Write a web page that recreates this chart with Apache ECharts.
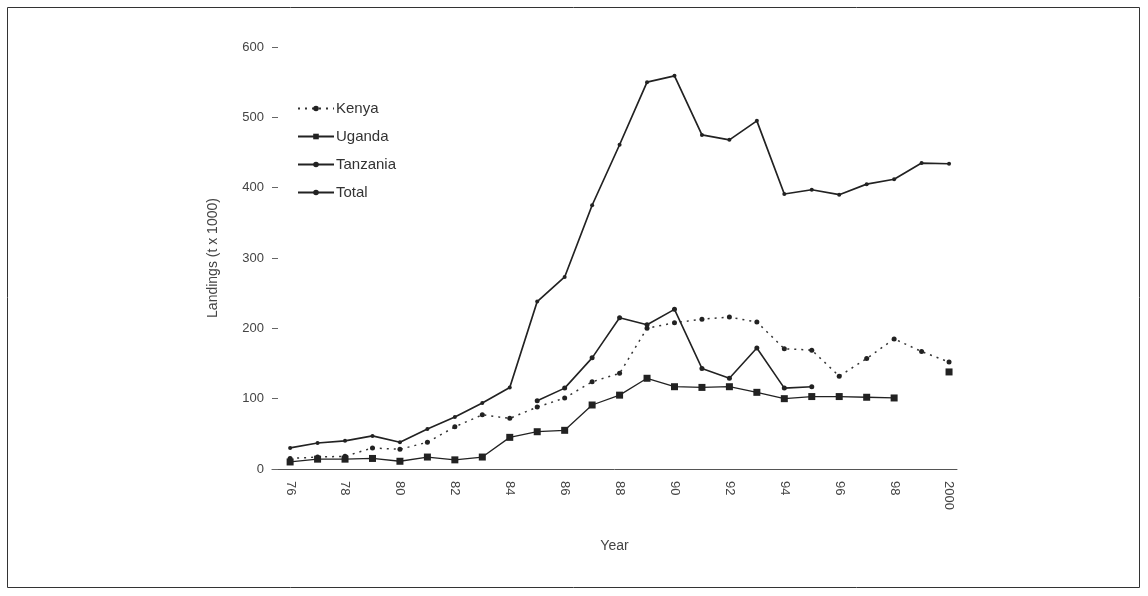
<!DOCTYPE html>
<html>
<head>
<meta charset="utf-8">
<script src="https://cdn.jsdelivr.net/npm/echarts@6/dist/echarts.min.js"></script>
<style>
  html, body { margin: 0; padding: 0; background: #fff; }
  #chart { width: 1148px; height: 596px; }
</style>
</head>
<body>
<div id="chart"></div>
<script>
// Fish landings on Lake Victoria by country, 1976-2000 (thousand tonnes)
const years = [1976, 1977, 1978, 1979, 1980, 1981, 1982, 1983, 1984, 1985, 1986, 1987, 1988,
               1989, 1990, 1991, 1992, 1993, 1994, 1995, 1996, 1997, 1998, 1999, 2000];
const kenya    = [15, 17, 18, 30, 28, 38, 60, 77, 72, 88, 101, 124, 136,
                  200, 208, 213, 216, 209, 171, 169, 132, 157, 185, 167, 152];
const uganda   = [10, 14, 14, 15, 11, 17, 13, 17, 45, 53, 55, 91, 105,
                  129, 117, 116, 117, 109, 100, 103, 103, 102, 101, null, 138];
const tanzania = [null, null, null, null, null, null, null, null, null, 97, 115, 158, 215,
                  205, 227, 143, 129, 172, 115, 117, null, null, null, null, null];
const total    = [30, 37, 40, 47, 38, 57, 74, 94, 116, 238, 273, 375, 461,
                  550, 559, 475, 468, 495, 391, 397, 390, 405, 412, 435, 434];

// Tick labels along the year axis
const yearTicks  = [1976, 1978, 1980, 1982, 1984, 1986, 1988, 1990, 1992, 1994, 1996, 1998, 2000];
const yearLabels = ['76', '78', '80', '82', '84', '86', '88', '90', '92', '94', '96', '98', '2000'];
const yTicks = [0, 100, 200, 300, 400, 500, 600];

const pairs = arr => years.map((y, i) => [y, arr[i]]);
const ink = '#222';
const font = 'Liberation Sans, Arial, sans-serif';

const chart = echarts.init(document.getElementById('chart'), null, { renderer: 'canvas' });

chart.setOption({
  backgroundColor: '#fff',
  animation: false,
  textStyle: { fontFamily: font },
  graphic: [{
    type: 'rect',
    shape: { x: 7.5, y: 7.5, width: 1132, height: 580 },
    style: { fill: 'none', stroke: '#333', lineWidth: 1 },
    silent: true
  }],
  grid: { left: 272, right: 191, top: 47, bottom: 127 },
  legend: {
    orient: 'vertical',
    left: 292,
    top: 96,
    itemWidth: 36,
    itemHeight: 7,
    itemGap: 13,
    textStyle: { fontSize: 15, color: '#333', fontFamily: font, padding: [0, 0, 0, -3] },
    data: ['Kenya', 'Uganda', 'Tanzania', 'Total']
  },
  xAxis: {
    type: 'value',
    min: 1975.34,
    max: 2000.29,
    name: 'Year',
    nameLocation: 'middle',
    nameGap: 70,
    nameTextStyle: { fontSize: 14, color: '#444' },
    axisLine: { show: true, lineStyle: { color: '#555', width: 1 } },
    axisTick: { show: false },
    splitLine: { show: false },
    axisLabel: {
      customValues: yearTicks,
      rotate: -90,
      margin: 12,
      fontSize: 13,
      color: '#444',
      formatter: v => yearLabels[yearTicks.indexOf(Math.round(v))] || ''
    }
  },
  yAxis: {
    type: 'value',
    min: 0,
    max: 600,
    interval: 100,
    name: 'Landings (t x 1000)',
    nameLocation: 'middle',
    nameGap: 52,
    nameTextStyle: { fontSize: 14, color: '#444' },
    axisLine: { show: false },
    axisTick: { show: true, inside: true, length: 6, lineStyle: { color: '#666' } },
    splitLine: { show: false },
    axisLabel: {
      margin: 8,
      fontSize: 13,
      color: '#444',
      formatter: v => (yTicks.indexOf(v) >= 0 ? String(v) : '')
    }
  },
  series: [
    {
      name: 'Kenya',
      type: 'line',
      data: pairs(kenya),
      symbol: 'circle',
      symbolSize: 5,
      lineStyle: { color: '#333', width: 1.5, type: [2, 5] },
      itemStyle: { color: ink }
    },
    {
      name: 'Uganda',
      type: 'line',
      data: pairs(uganda),
      connectNulls: false,
      symbol: 'rect',
      symbolSize: 7,
      lineStyle: { color: ink, width: 1.3 },
      itemStyle: { color: ink }
    },
    {
      name: 'Tanzania',
      type: 'line',
      data: pairs(tanzania),
      symbol: 'circle',
      symbolSize: 5,
      lineStyle: { color: ink, width: 1.6 },
      itemStyle: { color: ink }
    },
    {
      name: 'Total',
      type: 'line',
      data: pairs(total),
      symbol: 'circle',
      symbolSize: 4,
      lineStyle: { color: ink, width: 1.7 },
      itemStyle: { color: ink }
    }
  ]
});
</script>
</body>
</html>
